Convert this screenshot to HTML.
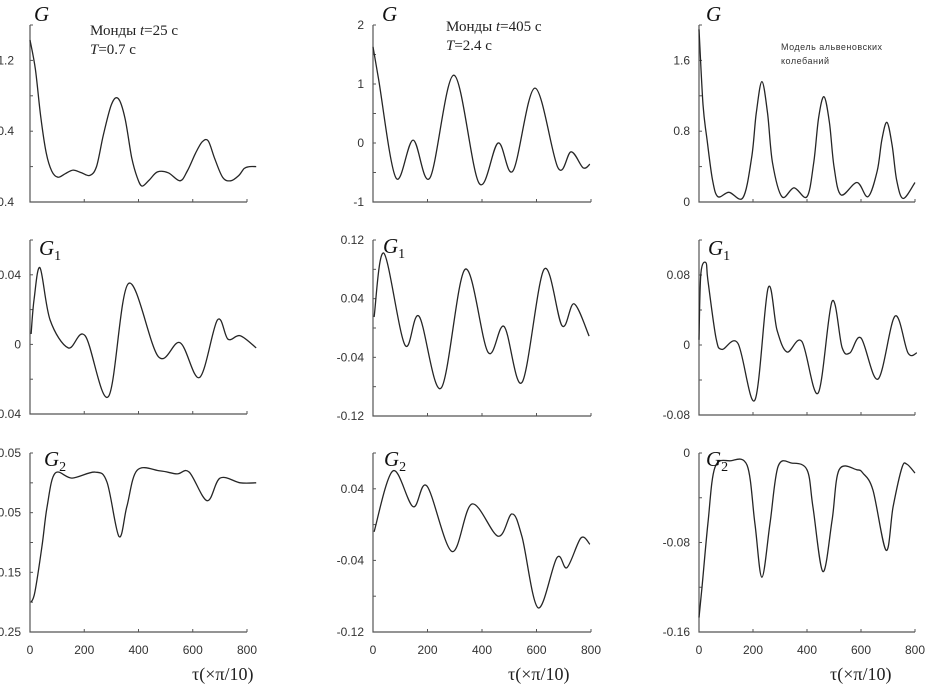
<!DOCTYPE html>
<html><head><meta charset="utf-8">
<style>
html,body{margin:0;padding:0;background:#fff;width:941px;height:688px;overflow:hidden}
svg{display:block}
.tl{font-family:"Liberation Sans",sans-serif;font-size:12px;fill:#333}
.gl{font-family:"Liberation Serif",serif;font-style:italic;font-size:21px;fill:#111}
.sub{font-family:"Liberation Serif",serif;font-size:14px;fill:#111;font-style:normal}
.ann{font-family:"Liberation Serif","Noto Serif CJK SC",serif;font-size:15px;fill:#222}
.small{font-family:"Liberation Sans",sans-serif;font-size:9px;fill:#333;letter-spacing:0.5px}
.xt{font-family:"Liberation Serif",serif;font-size:18px;fill:#222}
</style></head>
<body>
<svg id="chart" width="941" height="688" viewBox="0 0 941 688">
<text class="ann" x="90" y="35">Монды <tspan font-style="italic">t</tspan>=25 с</text>
<text class="ann" x="90" y="54"><tspan font-style="italic">T</tspan>=0.7 с</text>
<text class="ann" x="446" y="31">Монды <tspan font-style="italic">t</tspan>=405 с</text>
<text class="ann" x="446" y="50"><tspan font-style="italic">T</tspan>=2.4 с</text>
<text class="small" x="781" y="50">Модель альвеновских</text>
<text class="small" x="781" y="64">колебаний</text>
<text class="xt" x="192" y="680">τ(×π/10)</text>
<text class="xt" x="508" y="680">τ(×π/10)</text>
<text class="xt" x="830" y="680">τ(×π/10)</text>
</svg>
<script>
const xTicks=[0,200,400,600,800];
const tauA=[0,20,40,60,80,103,130,159,190,221,245,270,300,325,350,375,395,413,440,470,510,553,580,610,635,657,680,710,740,770,790,810,834];
const valA=[1.43,1.1,0.55,0.15,-0.05,-0.12,-0.08,-0.04,-0.07,-0.1,0.0,0.35,0.7,0.77,0.55,0.1,-0.12,-0.22,-0.15,-0.06,-0.07,-0.16,-0.05,0.15,0.28,0.29,0.1,-0.12,-0.16,-0.1,-0.02,0.0,0.0];
const tauB=[0,20,84,147,209,297,389,459,514,594,679,727,771,796];
const valB=[1.63,1.1,-0.59,0.05,-0.59,1.15,-0.68,0.0,-0.47,0.93,-0.42,-0.15,-0.42,-0.36];
const tauC=[0,15,30,50,70,111,163,195,212,233,254,272,307,352,400,425,443,463,483,500,526,585,626,660,677,696,715,732,756,800];
const valC=[1.95,1.1,0.7,0.25,0.06,0.11,0.05,0.5,1.0,1.36,1.0,0.45,0.06,0.16,0.06,0.45,0.95,1.19,0.9,0.4,0.08,0.22,0.06,0.35,0.7,0.9,0.65,0.25,0.04,0.22];
const tauD=[4,15,37,74,141,203,289,363,473,553,625,691,730,775,834];
const valD=[0.006,0.026,0.044,0.014,-0.002,0.005,-0.03,0.035,-0.007,0.001,-0.019,0.014,0.003,0.005,-0.002];
const tauE=[4,40,117,169,250,338,422,481,547,628,694,738,793];
const valE=[0.015,0.102,-0.023,0.016,-0.082,0.08,-0.033,0.002,-0.074,0.08,0.003,0.033,-0.011];
const tauF=[0,7,26,33,63,85,144,207,256,289,326,381,441,493,530,559,600,663,726,774,807];
const valF=[0.006,0.082,0.094,0.074,0.008,-0.005,0.002,-0.063,0.065,0.017,-0.008,0.004,-0.055,0.05,-0.003,-0.009,0.008,-0.039,0.033,-0.009,-0.009];
const tauG=[4,18,44,63,92,155,240,284,328,357,395,480,542,587,653,701,775,834];
const valG=[-0.2,-0.183,-0.107,-0.04,0.016,0.008,0.018,0.001,-0.09,-0.04,0.021,0.02,0.015,0.018,-0.03,0.008,0.0,0.0];
const tauH=[4,73,147,198,290,363,459,510,547,606,675,712,763,796];
const valH=[-0.008,0.06,0.02,0.043,-0.03,0.023,-0.013,0.012,-0.014,-0.093,-0.037,-0.048,-0.015,-0.022];
const tauI=[0,11,33,59,115,178,207,233,263,293,344,400,422,459,493,519,585,607,644,693,719,752,770,800];
const valI=[-0.147,-0.12,-0.063,-0.013,-0.007,-0.011,-0.063,-0.111,-0.063,-0.012,-0.009,-0.015,-0.048,-0.106,-0.06,-0.015,-0.015,-0.018,-0.033,-0.087,-0.048,-0.013,-0.01,-0.018];
const labelsA=[1.2,0.4,-0.4], minorA=[1.6,0.8,0.0];
const labelsB=[2,1,0,-1], minorB=[1.5,0.5,-0.5];
const labelsC=[1.6,0.8,0], minorC=[2.0,1.2,0.4];
const labelsD=[0.04,0,-0.04], minorD=[0.06,0.02,-0.02];
const labelsE=[0.12,0.04,-0.04,-0.12], minorE=[0.08,0,-0.08];
const labelsF=[0.08,0,-0.08], minorF=[0.12,0.04,-0.04];
const labelsG=[0.05,-0.05,-0.15,-0.25], minorG=[0,-0.1,-0.2];
const labelsH=[0.04,-0.04,-0.12], minorH=[0.08,0,-0.08];
const labelsI=[0,-0.08,-0.16], minorI=[-0.04,-0.12];

const NS="http://www.w3.org/2000/svg";
const svg=document.getElementById('chart');
function mk(tag,attrs,parent){const e=document.createElementNS(NS,tag);for(const k in attrs)e.setAttribute(k,attrs[k]);(parent||svg).appendChild(e);return e;}
function fmt(v){if(v===0)return "0";return String(Math.round(v*1000)/1000);}
function panel(id,tau,val,labels,minor,g){
  const grp=mk('g',{});
  
  
  const xs=t=>g.x0+(t/800)*(g.x1-g.x0);
  const ys=v=>g.yb-(v-g.vb)/(g.vt-g.vb)*(g.yb-g.yt);
  const ax=mk('path',{d:`M${g.x0} ${g.yt}V${g.yb}H${g.x1}`,stroke:'#555','stroke-width':1.2,fill:'none'},grp);
  
  
  xTicks.forEach(t=>{
    const tk=mk('line',{x1:xs(t),x2:xs(t),y1:g.yb,y2:g.yb-3,stroke:'#555','stroke-width':1},grp);
    
    
    if(g.xl){
      const tx=mk('text',{x:xs(t),y:g.yb+22,'text-anchor':'middle',class:'tl'},grp);
      tx.textContent=t;
      
      
    }
  });
  labels.forEach(v=>{
    const y=ys(v);
    const tk=mk('line',{x1:g.x0,x2:g.x0+3,y1:y,y2:y,stroke:'#555','stroke-width':1},grp);
    
    
    const tx=mk('text',{x:g.lx,y:y+4,'text-anchor':'end',class:'tl'},grp);
    tx.textContent=fmt(v);
    
    
  });
  minor.forEach(v=>{
    const y=ys(v);
    const tk=mk('line',{x1:g.x0,x2:g.x0+3,y1:y,y2:y,stroke:'#555','stroke-width':1},grp);
    
    
  });
  const P=tau.map((t,i)=>[xs(t),ys(val[i])]);
  let d=`M${P[0][0].toFixed(1)} ${P[0][1].toFixed(1)}`;
  for(let i=0;i<P.length-1;i++){
    const p0=P[Math.max(0,i-1)],p1=P[i],p2=P[i+1],p3=P[Math.min(P.length-1,i+2)];
    const c1=[p1[0]+(p2[0]-p0[0])/6,p1[1]+(p2[1]-p0[1])/6];
    const c2=[p2[0]-(p3[0]-p1[0])/6,p2[1]-(p3[1]-p1[1])/6];
    d+=`C${c1[0].toFixed(1)} ${c1[1].toFixed(1)} ${c2[0].toFixed(1)} ${c2[1].toFixed(1)} ${p2[0].toFixed(1)} ${p2[1].toFixed(1)}`;
  }
  const ln=mk('path',{d:d,stroke:'#262626','stroke-width':1.3,fill:'none','stroke-linejoin':'round'},grp);
  
  
  const gt=mk('text',{x:g.gx,y:g.gy,class:'gl'},grp);
  gt.textContent='G';
  
  
  if(g.sub){const s=mk('tspan',{class:'sub',dy:5},gt);s.textContent=g.sub;}
}
panel('A',tauA,valA,labelsA,minorA,{x0:30,x1:247,yt:25,yb:202,vt:1.6,vb:-0.4,lx:14,gx:34,gy:21});
panel('B',tauB,valB,labelsB,minorB,{x0:373,x1:591,yt:25,yb:202,vt:2,vb:-1,lx:364,gx:382,gy:21});
panel('C',tauC,valC,labelsC,minorC,{x0:699,x1:915,yt:25,yb:202,vt:2,vb:0,lx:690,gx:706,gy:21});
panel('D',tauD,valD,labelsD,minorD,{x0:30,x1:247,yt:240,yb:414,vt:0.06,vb:-0.04,lx:21,gx:39,gy:255,sub:'1'});
panel('E',tauE,valE,labelsE,minorE,{x0:373,x1:591,yt:240,yb:416,vt:0.12,vb:-0.12,lx:364,gx:383,gy:253,sub:'1'});
panel('F',tauF,valF,labelsF,minorF,{x0:699,x1:915,yt:240,yb:415,vt:0.12,vb:-0.08,lx:690,gx:708,gy:255,sub:'1'});
panel('G',tauG,valG,labelsG,minorG,{x0:30,x1:247,yt:453,yb:632,vt:0.05,vb:-0.25,lx:21,gx:44,gy:466,sub:'2',xl:true});
panel('H',tauH,valH,labelsH,minorH,{x0:373,x1:591,yt:453,yb:632,vt:0.08,vb:-0.12,lx:364,gx:384,gy:466,sub:'2',xl:true});
panel('I',tauI,valI,labelsI,minorI,{x0:699,x1:915,yt:453,yb:632,vt:0,vb:-0.16,lx:690,gx:706,gy:466,sub:'2',xl:true});
</script>
</body></html>
